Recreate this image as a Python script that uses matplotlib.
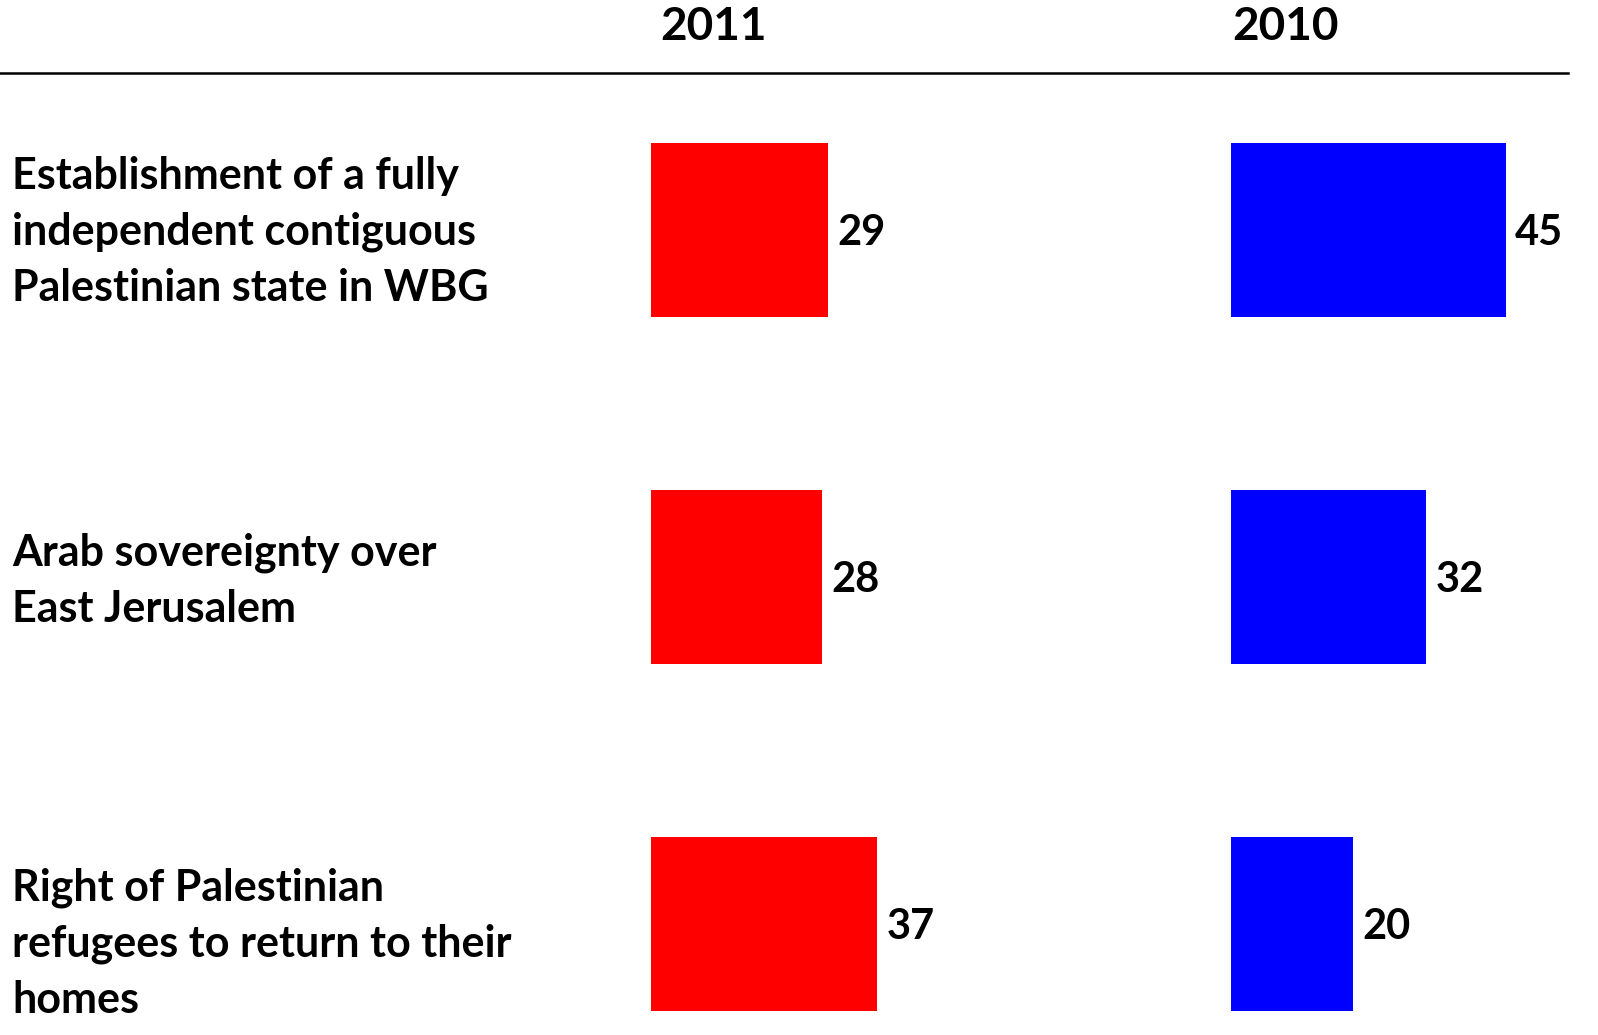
import matplotlib
matplotlib.use('Agg')
import matplotlib.pyplot as plt

plt.rcParams['font.family'] = ['Lato', 'DejaVu Sans']

labels = ['Establishment of a fully\nindependent contiguous\nPalestinian state in WBG',
          'Arab sovereignty over\nEast Jerusalem',
          'Right of Palestinian\nrefugees to return to their\nhomes']
vals_2011 = [29, 28, 37]
vals_2010 = [45, 32, 20]
years = ['2011', '2010']
colors = ['#ff0000', '#0000ff']

W, H = 1598, 1035
fig = plt.figure(figsize=(W / 100, H / 100), dpi=100)

# pixel layout (top-down pixels converted to figure fractions)
top_px, bot_px = 73, 1035
px_per_unit = 6.1
lefts = [651, 1231]
rights = [1231, 1598]
ylim = (2.32, -0.452)

axes = []
for i, (l, r) in enumerate(zip(lefts, rights)):
    ax = fig.add_axes([l / W, 1 - bot_px / H, (r - l) / W, (bot_px - top_px) / H])
    ax.set_xlim(0, (r - l) / px_per_unit)
    ax.set_ylim(*ylim)
    ax.axis('off')
    axes.append(ax)

for ax, vals, c in zip(axes, [vals_2011, vals_2010], colors):
    y = range(len(vals))
    ax.barh(y, vals, height=0.5, color=c)
    for yi, v in zip(y, vals):
        ax.text(v + 1.6, yi + 0.01, str(v), va='center', ha='left',
                fontsize=30, fontweight='bold', clip_on=False)

# headers
fig.text(714 / W, 1 - 27 / H, years[0], ha='center', va='center',
         fontsize=33, fontweight='bold')
fig.text(1285 / W, 1 - 27 / H, years[1], ha='center', va='center',
         fontsize=33, fontweight='bold')
fig.add_artist(plt.Line2D([0, 1568 / W], [1 - 73 / H, 1 - 73 / H],
                          color='black', lw=1.8))

# category labels
label_y = [232, 581, 944]
for lab, yp in zip(labels, label_y):
    fig.text(12 / W, 1 - yp / H, lab, ha='left', va='center',
             fontsize=31, fontweight='bold', linespacing=1.47)

fig.savefig('out.png', dpi=100)
